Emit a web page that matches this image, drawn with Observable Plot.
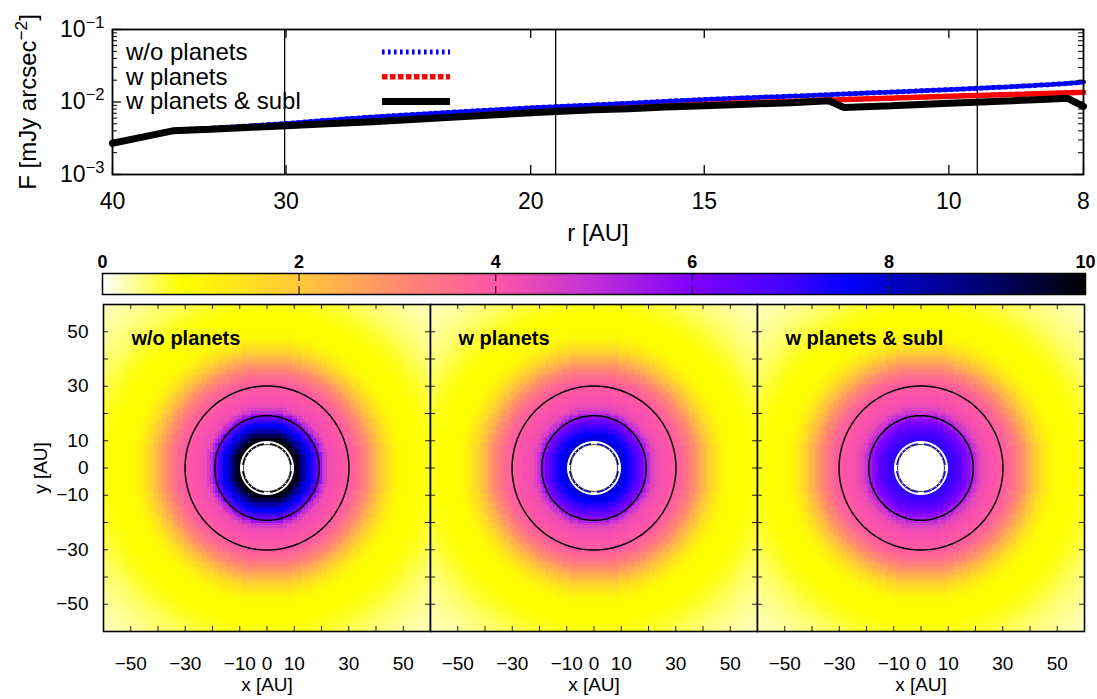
<!DOCTYPE html>
<html><head><meta charset="utf-8">
<script src="https://cdn.jsdelivr.net/npm/d3@7"></script>
<script src="https://cdn.jsdelivr.net/npm/@observablehq/plot@0.6"></script>
<style>
body{margin:0;background:#fff;}
#wrap{position:relative;width:1097px;height:699px;overflow:hidden;background:#fff;}
#wrap > div{position:absolute;}
</style></head><body><div id="wrap"></div>
<script>
// ---------------- data: top panel (radial surface brightness) ----------------
const rAU = [40, 38, 36.2, 34, 32, 30, 28, 26, 24, 22, 20, 19, 18, 17, 16, 15, 14, 13, 12.2, 11.9, 11, 10, 9, 8.5, 8.22, 8];
const F_noPlanets = [2.72e-3, 3.3e-3, 4.05e-3, 4.35e-3, 4.65e-3, 5.05e-3, 5.6e-3, 6.2e-3, 6.8e-3, 7.5e-3, 8.3e-3, 8.7e-3, 9.1e-3, 9.6e-3, 1.02e-2, 1.08e-2, 1.14e-2, 1.2e-2, 1.26e-2, 1.29e-2, 1.37e-2, 1.48e-2, 1.63e-2, 1.73e-2, 1.8e-2, 1.88e-2];
const F_planets   = [2.7e-3, 3.3e-3, 4.0e-3, 4.2e-3, 4.45e-3, 4.75e-3, 5.05e-3, 5.4e-3, 5.9e-3, 6.5e-3, 7.2e-3, 7.6e-3, 7.95e-3, 8.3e-3, 8.75e-3, 9.25e-3, 9.75e-3, 1.02e-2, 1.06e-2, 1.08e-2, 1.13e-2, 1.2e-2, 1.27e-2, 1.31e-2, 1.34e-2, 1.36e-2];
const F_subl      = [2.7e-3, 3.3e-3, 4.0e-3, 4.2e-3, 4.45e-3, 4.72e-3, 5.0e-3, 5.35e-3, 5.85e-3, 6.4e-3, 7.1e-3, 7.45e-3, 7.8e-3, 8.1e-3, 8.5e-3, 8.9e-3, 9.3e-3, 9.8e-3, 1.04e-2, 8.4e-3, 8.9e-3, 9.6e-3, 1.04e-2, 1.09e-2, 1.13e-2, 8.7e-3];
const seriesNames = ["w/o planets", "w planets", "w planets & subl"];
const planetOrbits = [30.07, 19.19, 9.54];   // Neptune, Uranus, Saturn
const rTicks = [40, 30, 20, 15, 10, 8];
const fMajor = [1e-3, 1e-2, 1e-1];
const fMinor = [2e-3,3e-3,4e-3,5e-3,6e-3,7e-3,8e-3,9e-3,2e-2,3e-2,4e-2,5e-2,6e-2,7e-2,8e-2,9e-2];

// ---------------- data: colour bar ----------------
const cbTicks = [0, 2, 4, 6, 8, 10];
const cStops  = [0, 0.8, 2, 3, 4, 5, 6, 7, 7.6, 8, 9, 10];
const cColors = ["#ffffff", "#ffff00", "#ffc83a", "#ff8c6e", "#ff55a8", "#c030d8", "#8000ff", "#4000ff", "#0000ff", "#0000c8", "#000070", "#000000"];

// ---------------- data: maps (radial profiles, value at integer radius) ----------------
const innerR0 = 9;   // first radius of the inner profiles
const inner_noPlanets = [10, 10, 9.8, 9.4, 8.9, 8.4, 7.9, 7.6, 7.3, 6.9, 6.3, 5.6, 5.0, 4.6];
const inner_planets   = [8.2, 8.0, 7.8, 7.7, 7.55, 7.35, 7.1, 6.8, 6.5, 6.2, 5.8, 5.3, 4.85, 4.5];
const inner_subl      = [7.3, 7.2, 7.1, 7.0, 6.9, 6.75, 6.55, 6.3, 6.05, 5.8, 5.5, 5.1, 4.75, 4.5];
// r = 23 .. 86
const outerProfile = [4.3, 4.2, 4.15, 4.1, 4.05, 4.0, 3.95, 3.9, 3.85, 3.75, 3.65, 3.5, 3.35, 3.2, 3.0, 2.8, 2.6, 2.4, 2.2, 2.0, 1.8, 1.6, 1.42, 1.26, 1.12, 1.0, 0.92, 0.87, 0.84, 0.82, 0.8, 0.8, 0.8, 0.8, 0.79, 0.77, 0.75, 0.73, 0.71, 0.68, 0.65, 0.62, 0.59, 0.56, 0.53, 0.5, 0.47, 0.45, 0.43, 0.41, 0.39, 0.37, 0.35, 0.33, 0.31, 0.3, 0.28, 0.27, 0.26, 0.25, 0.24, 0.23, 0.22, 0.21];
const holeR = 8.6;
const mapTicks = [-50, -30, -10, 0, 10, 30, 50];
const mapMinor = [-50, -40, -30, -20, -10, 0, 10, 20, 30, 40, 50];
const N = 120;   // grid cells per side, covering -60..60 AU

const FONT = "'Liberation Sans', Arial, Helvetica, sans-serif";
const wrap = document.getElementById("wrap");
function place(node, left, topPx){ const d = document.createElement("div"); d.style.left = left+"px"; d.style.top = topPx+"px"; d.appendChild(node); wrap.appendChild(d); }
function supify(svg){
  d3.select(svg).selectAll("text").each(function(){
    const t = this.textContent; const m = t.match(/^(.*)\^\{([^}]*)\}(.*)$/);
    if(!m) return;
    const el = d3.select(this); el.text(null);
    el.append("tspan").text(m[1]);
    el.append("tspan").attr("dy", -9).style("font-size", "72%").text(m[2]);
    if(m[3]) el.append("tspan").attr("dy", 9).text(m[3]);
  });
}
const colorScale = {type: "linear", domain: cStops, range: cColors, interpolate: "rgb", clamp: true};

// ---------------- top panel ----------------
const Fseries = [F_noPlanets, F_planets, F_subl];
const topRows = Fseries.flatMap((F, k) => rAU.map((r, i) => ({r, F: F[i], s: seriesNames[k]})));
const lineStyles = [
  {stroke: "#0000ff", strokeWidth: 5, strokeDasharray: "2.6,3.4"},
  {stroke: "#ff0000", strokeWidth: 5.5, strokeDasharray: "5.5,2.5"},
  {stroke: "#000000", strokeWidth: 7, strokeDasharray: null}
];
const TW = 971, TH = 145;
const topPlot = Plot.plot({
  width: 1097, height: 255, marginLeft: 112, marginRight: 14, marginTop: 29, marginBottom: 81,
  style: {background: "transparent", fontFamily: FONT, fontSize: "23px", color: "black"},
  x: {type: "log", domain: [40, 8]},
  y: {type: "log", domain: [1e-3, 1e-1]},
  marks: [
    Plot.ruleX(planetOrbits, {x: d => d, stroke: "black", strokeWidth: 1.3}),
    ...seriesNames.map((s, k) => Plot.line(topRows.filter(d => d.s === s), {x: "r", y: "F", ...lineStyles[k], strokeLinejoin: "miter"})),
    Plot.tickX(rTicks, {x: d => d, insetTop: TH - 9, strokeWidth: 1.3}),
    Plot.tickX(rTicks, {x: d => d, insetBottom: TH - 9, strokeWidth: 1.3}),
    Plot.tickY(fMajor, {y: d => d, insetRight: TW - 9, strokeWidth: 1.3}),
    Plot.tickY(fMajor, {y: d => d, insetLeft: TW - 9, strokeWidth: 1.3}),
    Plot.tickY(fMinor, {y: d => d, insetRight: TW - 5, strokeWidth: 1}),
    Plot.tickY(fMinor, {y: d => d, insetLeft: TW - 5, strokeWidth: 1}),
    Plot.axisX(rTicks, {tickSize: 0, tickPadding: 18, fontSize: 23, label: null, tickFormat: d => String(d)}),
    Plot.axisY(fMajor, {tickSize: 0, tickPadding: 8, fontSize: 23, label: null, tickFormat: d => `10^{${String(Math.round(Math.log10(d))).replace("-", "\u2212")}}`}),
    Plot.text(["r [AU]"], {frameAnchor: "bottom", dy: 66, fontSize: 24}),
    Plot.text(["F [mJy arcsec^{\u22122}]"], {frameAnchor: "left", dx: -84, rotate: -90, textAnchor: "middle", fontSize: 24}),
    Plot.frame({strokeWidth: 1.8})
  ]
});
supify(topPlot);
// legend
{
  const g = d3.select(topPlot).append("g").attr("font-family", FONT).attr("font-size", 24).attr("text-anchor", "start");
  seriesNames.forEach((s, k) => {
    const y = 52 + k * 24.7;
    g.append("text").attr("x", 126).attr("y", y + 8).text(s);
    g.append("line").attr("x1", 382).attr("x2", 450).attr("y1", y).attr("y2", y)
      .attr("stroke", lineStyles[k].stroke).attr("stroke-width", lineStyles[k].strokeWidth)
      .attr("stroke-dasharray", lineStyles[k].strokeDasharray);
  });
}
place(topPlot, 0, 0);

// ---------------- colour bar ----------------
const cb = Plot.plot({
  width: 1097, height: 62, marginLeft: 102, marginRight: 12, marginTop: 33, marginBottom: 8,
  style: {background: "transparent", fontFamily: FONT, fontSize: "18px", color: "black"},
  x: {domain: [0, 10]},
  y: {domain: [0, 1], axis: null},
  color: colorScale,
  marks: [
    Plot.raster({x1: 0, x2: 10, y1: 0, y2: 1, width: 700, height: 1, fill: (x, y) => x}),
    Plot.tickX(cbTicks.slice(1, -1), {x: d => d, insetBottom: 13, stroke: "#222", strokeWidth: 1.2}),
    Plot.tickX(cbTicks.slice(1, -1), {x: d => d, insetTop: 13, stroke: "#222", strokeWidth: 1.2}),
    Plot.axisX(cbTicks, {anchor: "top", tickSize: 0, tickPadding: 6, fontSize: 18, fontWeight: "bold", label: null}),
    Plot.frame({strokeWidth: 1.5})
  ]
});
place(cb, 0, 240);

// ---------------- maps ----------------
function buildGrid(inner){
  const prof = inner.concat(outerProfile);
  const vals = new Array(N * N);
  for (let j = 0; j < N; ++j) {
    const y = 60 - (j + 0.5) * 120 / N;
    for (let i = 0; i < N; ++i) {
      const x = -60 + (i + 0.5) * 120 / N;
      const r = Math.hypot(x, y);
      vals[j * N + i] = r < holeR ? NaN : prof[Math.max(0, Math.min(prof.length - 1, Math.round(r) - innerR0))];
    }
  }
  return vals;
}
function circlePts(R){ const pts = []; for (let a = 0; a <= 360; a += 2) pts.push({x: R * Math.cos(a * Math.PI / 180), y: R * Math.sin(a * Math.PI / 180)}); return pts; }
const FR = 327;
function mapPanel(inner, title, showY){
  const ml = showY ? 103 : 8;
  return Plot.plot({
    width: ml + FR + 8, height: 403, marginLeft: ml, marginRight: 8, marginTop: 8, marginBottom: 68,
    style: {background: "transparent", fontFamily: FONT, fontSize: "18px", color: "black"},
    x: {domain: [-60, 60]},
    y: {domain: [-60, 60], axis: showY ? undefined : null},
    color: colorScale,
    marks: [
      Plot.raster(buildGrid(inner), {width: N, height: N, x1: -60, x2: 60, y1: 60, y2: -60, imageRendering: "pixelated"}),
      Plot.line(circlePts(holeR), {x: "x", y: "y", fill: "white", stroke: "#222", strokeWidth: 1}),
      Plot.line(circlePts(planetOrbits[2]), {x: "x", y: "y", stroke: "white", strokeWidth: 2}),
      Plot.line(circlePts(planetOrbits[1]), {x: "x", y: "y", stroke: "black", strokeWidth: 1.5}),
      Plot.line(circlePts(planetOrbits[0]), {x: "x", y: "y", stroke: "black", strokeWidth: 1.5}),
      Plot.tickX(mapMinor, {x: d => d, insetTop: FR - 5, stroke: "#222"}),
      Plot.tickX(mapMinor, {x: d => d, insetBottom: FR - 5, stroke: "#222"}),
      Plot.tickY(mapMinor, {y: d => d, insetRight: FR - 5, stroke: "#222"}),
      Plot.tickY(mapMinor, {y: d => d, insetLeft: FR - 5, stroke: "#222"}),
      Plot.axisX(mapTicks, {tickSize: 0, tickPadding: 25, fontSize: 19, label: null}),
      showY ? Plot.axisY(mapTicks, {tickSize: 0, tickPadding: 15, fontSize: 19, label: null}) : null,
      showY ? Plot.text(["y [AU]"], {frameAnchor: "left", dx: -63, rotate: -90, textAnchor: "middle", fontSize: 19}) : null,
      Plot.text(["x [AU]"], {frameAnchor: "bottom", dy: 59, fontSize: 19}),
      Plot.text([title], {frameAnchor: "top-left", dx: 28, dy: 26, textAnchor: "start", fontWeight: "bold", fontSize: 20}),
      Plot.frame({strokeWidth: 1.6})
    ]
  });
}
place(mapPanel(inner_noPlanets, seriesNames[0], true), 0, 296);
place(mapPanel(inner_planets, seriesNames[1], false), 422, 296);
place(mapPanel(inner_subl, seriesNames[2], false), 749, 296);
</script></body></html>
